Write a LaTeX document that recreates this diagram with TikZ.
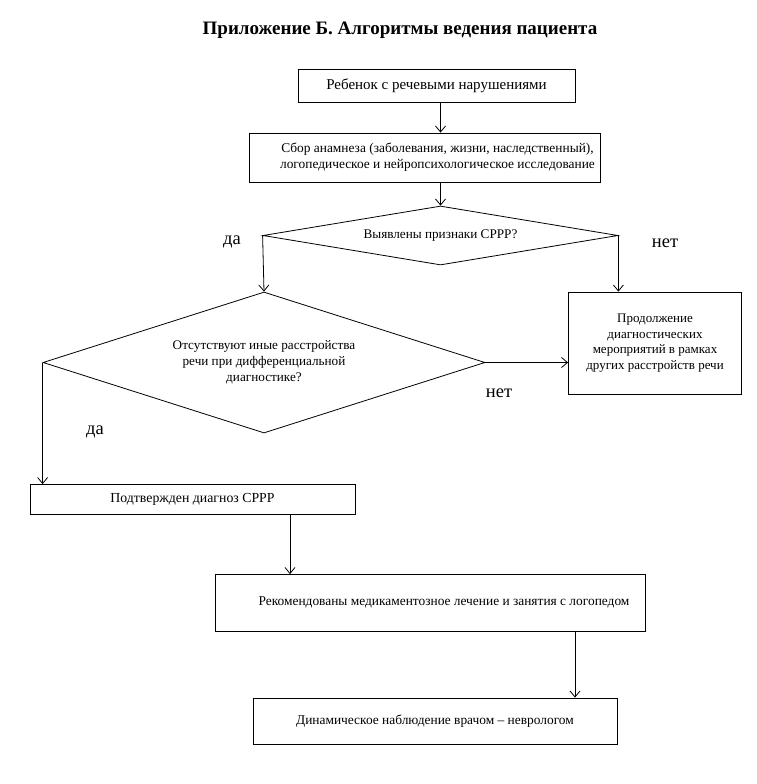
\documentclass[tikz,border=0pt]{standalone}
\usepackage{fontspec}
\setmainfont{Liberation Serif}
\usetikzlibrary{arrows.meta,shapes.geometric}
\begin{document}
\begin{tikzpicture}[x=1pt,y=-1pt,
  box/.style={draw,line width=0.8pt,inner sep=0pt,align=center,font=\fontsize{13.4}{15.5}\selectfont},
  dia/.style={draw,line width=0.8pt,shape=diamond,inner sep=0pt,align=center,aspect=6,font=\fontsize{13.2}{16}\selectfont},
  arr/.style={line width=0.8pt,-{Straight Barb[length=6pt,width=10pt,line width=0.8pt]}},
  lab/.style={font=\fontsize{18.5}{20}\selectfont,inner sep=0pt}]
\useasboundingbox (0,0) rectangle (756,784);
\node[font=\fontsize{19}{22}\selectfont\bfseries] (title) at (400,30) {Приложение Б. Алгоритмы ведения пациента};
\node[box,font=\fontsize{15}{17}\selectfont,minimum width=277pt,minimum height=33pt] (b1) at (436.5,85.5) {Ребенок с речевыми нарушениями};
\node[box,minimum width=351pt,minimum height=49pt] (b2) at (424.5,157.5) {\hspace*{26pt}\begin{tabular}{@{}c@{}}Сбор анамнеза (заболевания, жизни, наследственный),\\логопедическое и нейропсихологическое исследование\end{tabular}};
\node[dia,minimum width=355pt,minimum height=59pt] (d1) at (440.5,235.5) {\raisebox{3pt}{Выявлены признаки СРРР?}};
\node[dia,aspect=3,minimum width=442pt,minimum height=141pt] (d2) at (264,362.5) {Отсутствуют иные расстройства\\речи при дифференциальной\\диагностике?};
\node[box,font=\fontsize{13}{15.7}\selectfont,minimum width=173pt,minimum height=102pt] (b3) at (655,343) {Продолжение\\диагностических\\мероприятий в рамках\\других расстройств речи};
\node[box,font=\fontsize{13.8}{16}\selectfont,minimum width=325pt,minimum height=30pt] (b4) at (192.5,499.5) {Подтвержден диагноз СРРР};
\node[box,minimum width=430pt,minimum height=57pt] (b5) at (430,603) {\hspace*{28pt}\raisebox{4pt}{Рекомендованы медикаментозное лечение и занятия с логопедом}};
\node[box,minimum width=364pt,minimum height=46pt] (b6) at (435,721) {\raisebox{3pt}{Динамическое наблюдение врачом – неврологом}};
\node[lab] (l1) at (232,242) {да};
\node[lab] (l2) at (665,243) {нет};
\node[lab] (l3) at (499,393) {нет};
\node[lab] (l4) at (95,432) {да};
\draw[arr] (b1.south -| d1.north) -- (b2.north -| d1.north);
\draw[arr] (b2.south -| d1.north) -- (d1.north);
\draw[arr] (d1.west) -- (d2.north);
\draw[arr] (d1.east) -- (d1.east |- b3.north);
\draw[arr] (d2.east) -- (d2.east -| b3.west);
\draw[arr] (d2.west) -- (d2.west |- b4.north);
\draw[arr] ([xshift=97.5pt]b4.south) -- ([xshift=97.5pt]b4.south |- b5.north);
\draw[arr] ([xshift=145pt]b5.south) -- ([xshift=145pt]b5.south |- b6.north);
\end{tikzpicture}
\end{document}
